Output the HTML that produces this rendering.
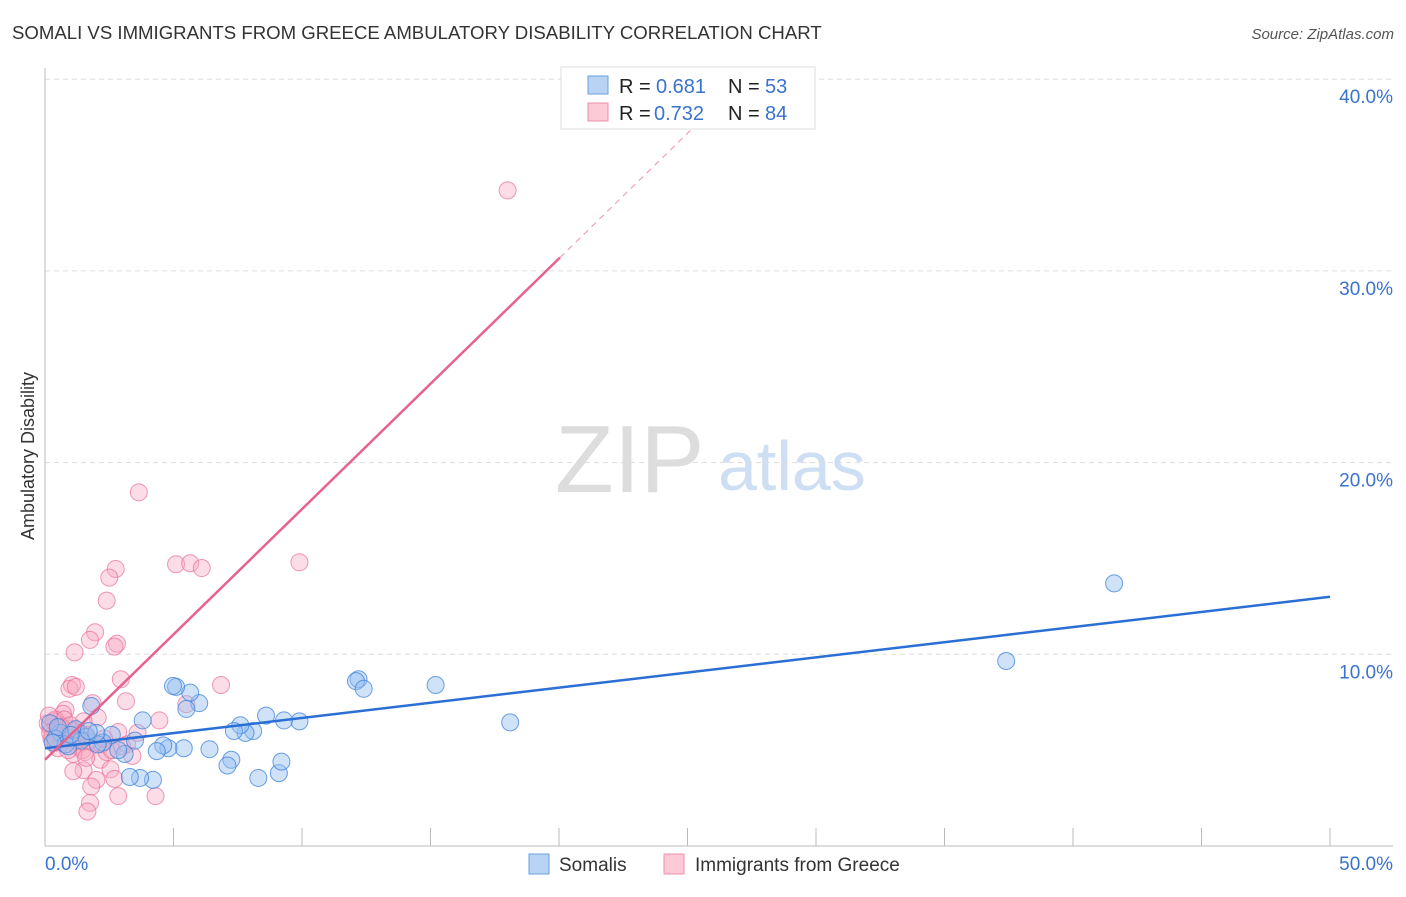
<!DOCTYPE html>
<html><head><meta charset="utf-8"><style>
body{margin:0;background:#fff;font-family:"Liberation Sans",sans-serif}
svg text{font-family:"Liberation Sans",sans-serif}
</style></head><body>
<svg id="c" width="1406" height="892">
<text x="12" y="39" font-size="18.6" fill="#333">SOMALI VS IMMIGRANTS FROM GREECE AMBULATORY DISABILITY CORRELATION CHART</text>
<text x="1394" y="39" font-size="15" fill="#555" font-style="italic" text-anchor="end">Source: ZipAtlas.com</text>
<text x="34" y="456" font-size="18" fill="#333" text-anchor="middle" transform="rotate(-90 34 456)">Ambulatory Disability</text>
<text x="555" y="492" font-size="96" fill="#ddd" font-family="Liberation Serif">ZIP</text>
<text x="718" y="490" font-size="70" fill="#cfdff3">atlas</text>
<g id="grid"></g><g id="pts"></g><g id="lines"></g>
<g>
<rect x="561" y="67" width="254" height="62" fill="#fff" stroke="#ddd"/>
<rect x="588" y="76" width="20" height="18" fill="#b9d3f5" stroke="#6a9fde"/>
<rect x="588" y="103" width="20" height="18" fill="#fcc9d6" stroke="#ef8fab"/>
<text x="619" y="93" font-size="20" fill="#222">R = </text>
<text x="656" y="93" font-size="20" fill="#3a72d0">0.681</text>
<text x="728" y="93" font-size="20" fill="#222">N = </text>
<text x="765" y="93" font-size="20" fill="#3a72d0">53</text>
<text x="619" y="120" font-size="20" fill="#222">R = </text>
<text x="654" y="120" font-size="20" fill="#3a72d0">0.732</text>
<text x="728" y="120" font-size="20" fill="#222">N = </text>
<text x="765" y="120" font-size="20" fill="#3a72d0">84</text>
</g>
<g>
<rect x="529" y="854" width="20" height="20" fill="#b9d3f5" stroke="#6a9fde"/>
<text x="559" y="871" font-size="19" fill="#333">Somalis</text>
<rect x="664" y="854" width="20" height="20" fill="#fcc9d6" stroke="#ef8fab"/>
<text x="695" y="871" font-size="19" fill="#333">Immigrants from Greece</text>
</g>
</svg>
<script>
const yTicks=[10,20,30,40];
const yTickLabels=["10.0%","20.0%","30.0%","40.0%"];
const xTickLabels=["0.0%","50.0%"];
const somaliX=[41.6,37.4,18.1,15.2,12.2,12.1,12.4,9.9,9.3,8.6,9.1,8.3,9.2,8.1,7.8,7.6,7.35,7.25,7.1,6.4,6.0,5.65,5.5,5.1,4.98,5.4,4.8,4.6,4.35,4.2,3.7,3.3,3.8,3.5,3.1,2.85,2.6,2.25,2.05,1.8,0.6,0.4,0.8,1.2,1.6,0.2,0.9,1.4,0.5,1.0,2.0,0.3,1.7];
const somaliY=[13.7,9.65,6.45,8.4,8.7,8.6,8.2,6.5,6.55,6.8,3.8,3.55,4.4,6.0,5.9,6.3,6.0,4.5,4.2,5.05,7.45,8.0,7.15,8.3,8.35,5.1,5.1,5.25,4.95,3.45,3.55,3.6,6.55,5.5,4.8,5.0,5.8,5.4,5.3,7.3,5.9,5.6,5.3,6.1,5.7,6.4,5.2,5.5,6.2,5.8,5.9,5.4,6.0];
const greeceX=[18.0,3.65,9.9,5.1,5.65,6.1,2.75,2.5,2.4,1.95,1.75,2.8,2.7,1.15,6.85,2.95,1.05,0.95,1.2,3.15,1.85,4.45,5.5,2.05,1.5,0.8,0.7,0.4,2.85,3.2,2.15,2.55,1.5,1.1,2.7,2.0,1.8,2.85,4.3,1.75,1.65,0.2,0.3,0.5,0.6,0.7,0.9,1.0,1.3,1.4,1.6,0.1,0.25,0.45,0.55,0.65,0.85,1.25,1.45,1.9,2.2,2.4,0.35,0.75,1.05,1.35,1.55,0.15,0.5,0.8,1.1,1.7,2.3,2.6,3.0,3.4,0.2,0.6,1.0,1.2,0.4,0.9,1.6,3.6];
const greeceY=[34.2,18.45,14.8,14.7,14.75,14.5,14.45,14.0,12.8,11.15,10.75,10.55,10.4,10.1,8.4,8.7,8.4,8.2,8.3,7.55,7.45,6.55,7.4,6.7,6.5,7.1,6.9,6.6,5.95,5.3,4.5,4.0,3.95,3.9,3.5,3.45,3.1,2.6,2.6,2.25,1.8,6.2,5.8,6.0,6.3,5.7,5.9,6.1,5.5,5.6,5.8,6.4,5.6,5.9,6.1,5.4,5.7,5.2,5.0,5.4,5.3,4.9,6.5,6.6,6.0,5.9,4.9,6.8,5.1,5.3,4.8,5.5,5.6,5.0,5.2,4.7,5.9,6.2,6.3,5.5,5.4,5.0,4.6,5.9];
const X=v=>45+v*25.7, Y=v=>846-v*19.17;
const NS="http://www.w3.org/2000/svg";
function mk(t,a,p){const e=document.createElementNS(NS,t);for(const k in a)e.setAttribute(k,a[k]);p.appendChild(e);return e;}
const g=document.getElementById('grid'),svg=document.getElementById('c');
yTicks.forEach((t,i)=>{
 const l=mk('line',{x1:45,x2:1393,y1:Y(t),y2:Y(t),stroke:'#ddd','stroke-dasharray':'5,4'},g);
 
 
 const tx=mk('text',{x:1393,y:Y(t)+24,'font-size':19,fill:'#3a72d0','text-anchor':'end'},g);
 tx.textContent=yTickLabels[i];
 
 
});
const ax=mk('line',{x1:45,x2:1393,y1:846,y2:846,stroke:'#bbb'},g);


const ay=mk('line',{x1:45,x2:45,y1:68,y2:846,stroke:'#bbb'},g);


for(let v=5;v<=50;v+=5){const t=mk('line',{x1:X(v),x2:X(v),y1:828,y2:846,stroke:'#bbb'},g);
 
 }
[[0,'start',45],[50,'end',1393]].forEach((d,i)=>{const t=mk('text',{x:d[2],y:870,'font-size':19,fill:'#3a72d0','text-anchor':d[1]},g);t.textContent=xTickLabels[i];
 
 });
const p=document.getElementById('pts');
greeceX.forEach((x,i)=>{const c=mk('circle',{cx:X(x),cy:Y(greeceY[i]),r:8.5,fill:'rgba(248,170,195,0.4)',stroke:'rgba(232,110,150,0.7)','stroke-width':1},p);
 
 });
somaliX.forEach((x,i)=>{const c=mk('circle',{cx:X(x),cy:Y(somaliY[i]),r:8.5,fill:'rgba(150,190,240,0.45)',stroke:'rgba(60,130,220,0.75)','stroke-width':1},p);
 
 });
const L=document.getElementById('lines');
const bl=mk('line',{x1:X(0),y1:Y(5.1),x2:X(50),y2:Y(13.0),stroke:'#2a6fd6','stroke-width':2.5},L);


const pl=mk('line',{x1:X(0),y1:Y(4.5),x2:X(20.04),y2:Y(30.7),stroke:'#e8628f','stroke-width':2.5},L);


const pd=mk('line',{x1:X(20.04),y1:Y(30.7),x2:X(26.7),y2:Y(39.4),stroke:'#f0a0bb','stroke-width':1.2,'stroke-dasharray':'6,5'},L);


</script>
</body></html>
